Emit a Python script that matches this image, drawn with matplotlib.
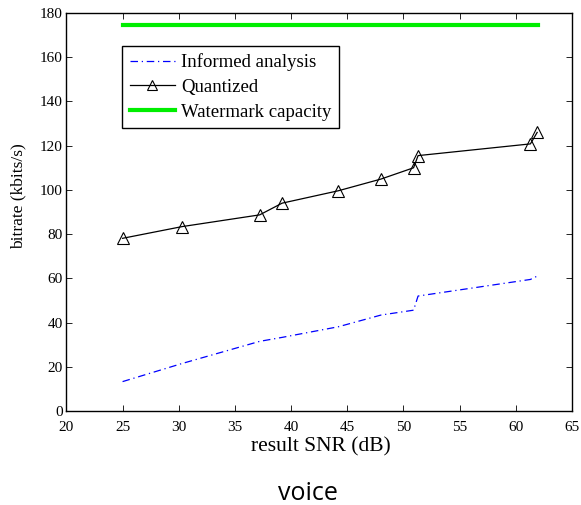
import matplotlib
matplotlib.use("Agg")
import matplotlib.pyplot as plt

# values
snr = [25.0, 30.3, 37.2, 39.2, 44.2, 48.0, 50.9, 51.3, 61.3, 61.9]
quantized = [78.1, 83.4, 88.7, 94.0, 99.6, 104.9, 110.0, 115.5, 120.8, 126.0]
informed = [13.3, 21.5, 31.5, 33.3, 38.1, 43.4, 45.6, 52.0, 59.5, 61.0]
capacity_x = [25.0, 62.0]
capacity = [174.6, 174.6]

serif = ["Liberation Serif", "DejaVu Serif"]

fig = plt.figure(figsize=(5.81, 5.05), dpi=100)
ax = fig.add_axes([0.1143, 0.1861, 0.8702, 0.7882])

ax.plot(snr, informed, color="#0000ff", linestyle="-.", linewidth=0.9,
        dashes=(6, 3, 1, 3), label="Informed analysis")
ax.plot(snr, quantized, color="black", linewidth=0.9, marker="^",
        markersize=8, markerfacecolor="none", markeredgewidth=0.8,
        label="Quantized")
ax.plot(capacity_x, capacity, color="#00ee00", linewidth=3,
        label="Watermark capacity")

ax.set_xlim(20, 65)
ax.set_ylim(0, 180)
ax.set_xticks(range(20, 66, 5))
ax.set_yticks(range(0, 181, 20))
ax.tick_params(direction="in", top=True, right=True, length=4, width=0.6,
               labelsize=11)
ax.tick_params(axis="x", pad=7.5)
ax.tick_params(axis="y", pad=2.5)
for lbl in ax.get_xticklabels() + ax.get_yticklabels():
    lbl.set_family(serif)
for s in ax.spines.values():
    s.set_linewidth(1.0)

fig.text(320.5 / 581, 1 - 451.5 / 505, "result SNR (dB)", ha="center",
         va="baseline", fontsize=15.5, family=serif)
fig.text(18.5 / 581, 1 - 196 / 505, "bitrate (kbits/s)", ha="center",
         va="center", rotation=90, fontsize=12.5, family=serif)

leg = ax.legend(loc="upper left", bbox_to_anchor=(0.110, 0.917),
                prop={"family": serif, "size": 13.5}, frameon=True,
                fancybox=False, edgecolor="black", framealpha=1,
                borderpad=0.4, handlelength=2.45, labelspacing=0.4,
                handletextpad=0.3, borderaxespad=0, markerscale=0.85)
leg.get_frame().set_linewidth(1.0)

# caption under the plot; baseline kept just clear of the bottom edge
fig.text(307.5 / 581, 1 - 499.5 / 505, "voice", ha="center", va="baseline",
         fontsize=18, family=["Open Sans", "DejaVu Sans"])

fig.savefig("out.png", dpi=100)
